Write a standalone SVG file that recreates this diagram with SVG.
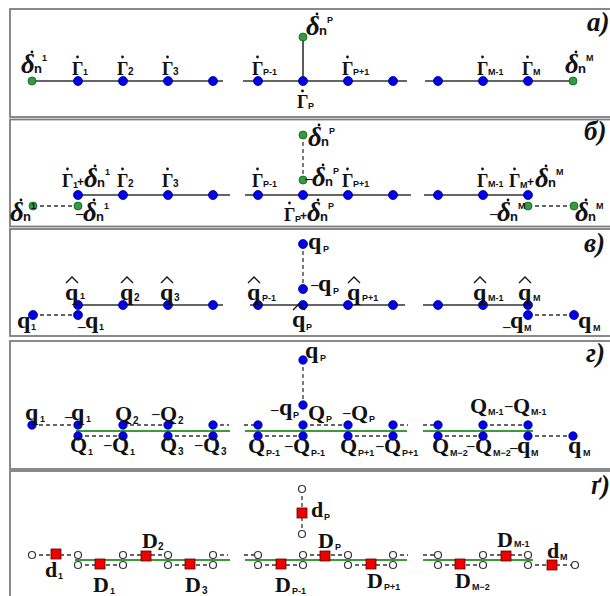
<svg xmlns="http://www.w3.org/2000/svg" width="610" height="596" viewBox="0 0 610 596">
<style>
.fr{fill:#fff;stroke:#7d7d7d;stroke-width:1.8}
.ln{stroke:#333;stroke-width:1.6;fill:none}
.ds{stroke:#333;stroke-width:1.3;stroke-dasharray:4 3;fill:none}
.gl{stroke:#3c9c3c;stroke-width:2;fill:none}
.b{fill:#0000ee;stroke:#00007a;stroke-width:0.8}
.g{fill:#2f9e3f;stroke:#155a1e;stroke-width:0.8}
.o{fill:#fff;stroke:#333;stroke-width:1.2}
.r{fill:#ee0000;stroke:#5a0000;stroke-width:0.8}
text{font-family:"Liberation Serif","Times New Roman",serif;font-weight:bold;fill:#111}
.L{font-size:22px}
.q{font-size:24px}
.G{font-size:18px}
.dl{font-size:27px;font-style:italic}
.n{font-family:"Liberation Sans",Arial,sans-serif;font-size:13px;font-style:normal}
.s{font-family:"Liberation Sans",Arial,sans-serif;font-size:9px;font-style:normal}
.sd{font-family:"Liberation Sans",Arial,sans-serif;font-size:10px;font-style:normal}
.t{font-size:27px;font-style:italic}
.m{font-size:15px;font-style:normal}
.pl{font-family:"Liberation Sans",Arial,sans-serif;font-size:12px;font-style:normal}
.dt{fill:#111}
.hat{fill:none;stroke:#111;stroke-width:1.3}
</style>

<g id="frames">
<rect class="fr" x="10" y="9" width="620" height="108"/>
<rect class="fr" x="10" y="119.5" width="620" height="107"/>
<rect class="fr" x="10" y="229" width="620" height="107"/>
<rect class="fr" x="10" y="341" width="620" height="128"/>
<rect class="fr" x="10" y="471" width="620" height="140"/>
</g>

<g id="titles">
<text class="t" x="587" y="31">a)</text>
<text class="t" x="584" y="140">б)</text>
<text class="t" x="584" y="252">в)</text>
<text class="t" x="586" y="362">г)</text>
<text class="t" x="591" y="494">ґ)</text>
</g>

<g id="connectors">
<path class="ln" d="M32 81H223M243 81H407M425 81H573M303 81V37"/>
<path class="ln" d="M78 195H230M245 195H411M424 195H528"/>
<path class="ds" d="M33 206H78M528 206H574M303 135V180"/>
<path class="ln" d="M78 305H223M250 305H405M423 305H528"/>
<path class="ds" d="M33 315H78M528 315H574M303 244V289"/>
<path class="gl" d="M76 431H230M245 431H407M423 431H533"/>
<path class="ds" d="M32 425H78M78 436H123M123 425H168M168 436H213M213 425H229M244 425H258M258 436H303M303 425H348M348 436H393M393 425H408M423 425H438M438 436H483M483 425H528M528 436H573M303 360V405"/>
<path class="gl" d="M75 560H230M245 560H407M423 560H533"/>
<path class="ds" d="M32 555H78M78 565H123M123 555H168M168 565H213M213 555H228M244 555H258M258 565H303M303 555H348M348 565H393M393 555H408M423 555H438M438 565H483M483 555H528M528 565H575M302 489V534"/>
</g>

<!-- ===== panel a ===== -->
<g id="a-d1"><circle class="g" cx="32" cy="81" r="4"/><circle class="dt" cx="32" cy="52" r="1.4"/><text class="dl" y="73"><tspan x="21">δ</tspan><tspan class="n" x="34">n</tspan><tspan class="s" x="42" y="61">1</tspan></text></g>
<g id="a-G1"><circle class="b" cx="78" cy="81" r="4.5"/><circle class="dt" cx="77.5" cy="57" r="1.4"/><text class="G" y="75"><tspan x="72">Γ</tspan><tspan class="s" x="83">1</tspan></text></g>
<g id="a-G2"><circle class="b" cx="123" cy="81" r="4.5"/><circle class="dt" cx="122.5" cy="57" r="1.4"/><text class="G" y="75"><tspan x="117">Γ</tspan><tspan class="sd" x="128">2</tspan></text></g>
<g id="a-G3"><circle class="b" cx="168" cy="81" r="4.5"/><circle class="dt" cx="167.5" cy="57" r="1.4"/><text class="G" y="75"><tspan x="162">Γ</tspan><tspan class="sd" x="173">3</tspan></text></g>
<g id="a-n4"><circle class="b" cx="213" cy="81" r="4.5"/></g>
<g id="a-GPm1"><circle class="b" cx="258" cy="81" r="4.5"/><circle class="dt" cx="257.5" cy="57" r="1.4"/><text class="G" y="75"><tspan x="252">Γ</tspan><tspan class="s" x="263">P-1</tspan></text></g>
<g id="a-GP"><circle class="b" cx="303" cy="81" r="4.5"/><circle class="dt" cx="302.5" cy="91" r="1.4"/><text class="G" y="108"><tspan x="297">Γ</tspan><tspan class="s" x="308" y="109">P</tspan></text></g>
<g id="a-dP"><circle class="g" cx="303" cy="37" r="4"/><circle class="dt" cx="317" cy="14" r="1.4"/><text class="dl" y="35"><tspan x="306">δ</tspan><tspan class="n" x="319">n</tspan><tspan class="s" x="327" y="23">P</tspan></text></g>
<g id="a-GPp1"><circle class="b" cx="348" cy="81" r="4.5"/><circle class="dt" cx="347.5" cy="57" r="1.4"/><text class="G" y="75"><tspan x="342">Γ</tspan><tspan class="s" x="353">P+1</tspan></text></g>
<g id="a-n8"><circle class="b" cx="393" cy="81" r="4.5"/></g>
<g id="a-n9"><circle class="b" cx="438" cy="81" r="4.5"/></g>
<g id="a-GMm1"><circle class="b" cx="483" cy="81" r="4.5"/><circle class="dt" cx="482.5" cy="57" r="1.4"/><text class="G" y="75"><tspan x="477">Γ</tspan><tspan class="s" x="488">M-1</tspan></text></g>
<g id="a-GM"><circle class="b" cx="528" cy="81" r="4.5"/><circle class="dt" cx="527.5" cy="57" r="1.4"/><text class="G" y="75"><tspan x="522">Γ</tspan><tspan class="s" x="533">M</tspan></text></g>
<g id="a-dM"><circle class="g" cx="573" cy="81" r="4"/><circle class="dt" cx="576" cy="52" r="1.4"/><text class="dl" y="73"><tspan x="565">δ</tspan><tspan class="n" x="578">n</tspan><tspan class="s" x="586" y="61">M</tspan></text></g>

<!-- ===== panel б ===== -->
<g id="b-d1L"><circle class="g" cx="33" cy="206" r="4"/><circle class="dt" cx="21" cy="200" r="1.4"/><text class="dl" y="221"><tspan x="10">δ</tspan><tspan class="n" x="23">n</tspan><tspan class="s" x="31" y="209">1</tspan></text></g>
<g id="b-d1"><circle class="g" cx="78" cy="206" r="4"/><circle class="dt" cx="94" cy="200" r="1.4"/><text class="dl" y="221"><tspan class="m" x="76" y="218">–</tspan><tspan x="83" y="221">δ</tspan><tspan class="n" x="96">n</tspan><tspan class="s" x="104" y="209">1</tspan></text></g>
<g id="b-G1"><circle class="b" cx="78" cy="195" r="4.5"/><circle class="dt" cx="67.5" cy="169" r="1.4"/><circle class="dt" cx="95" cy="166" r="1.4"/><text class="G" y="187"><tspan x="62">Γ</tspan><tspan class="s" x="73" y="188">1</tspan><tspan class="pl" x="77" y="186">+</tspan><tspan class="dl" x="84" y="187">δ</tspan><tspan class="n" x="97">n</tspan><tspan class="s" x="105" y="175">1</tspan></text></g>
<g id="b-G2"><circle class="b" cx="123" cy="195" r="4.5"/><circle class="dt" cx="122.5" cy="169" r="1.4"/><text class="G" y="187"><tspan x="117">Γ</tspan><tspan class="sd" x="128">2</tspan></text></g>
<g id="b-G3"><circle class="b" cx="168" cy="195" r="4.5"/><circle class="dt" cx="167.5" cy="169" r="1.4"/><text class="G" y="187"><tspan x="162">Γ</tspan><tspan class="sd" x="173">3</tspan></text></g>
<g id="b-n4"><circle class="b" cx="213" cy="195" r="4.5"/></g>
<g id="b-GPm1"><circle class="b" cx="258" cy="195" r="4.5"/><circle class="dt" cx="257.5" cy="169" r="1.4"/><text class="G" y="187"><tspan x="252">Γ</tspan><tspan class="s" x="263">P-1</tspan></text></g>
<g id="b-GP"><circle class="b" cx="303" cy="195" r="4.5"/><circle class="dt" cx="289.5" cy="203" r="1.4"/><circle class="dt" cx="318" cy="200" r="1.4"/><text class="G" y="221"><tspan x="284">Γ</tspan><tspan class="s" x="295" y="222">P</tspan><tspan class="pl" x="300" y="220">+</tspan><tspan class="dl" x="307" y="221">δ</tspan><tspan class="n" x="320">n</tspan><tspan class="s" x="328" y="209">P</tspan></text></g>
<g id="b-dPt"><circle class="g" cx="303" cy="135" r="4"/><circle class="dt" cx="319" cy="125" r="1.4"/><text class="dl" y="146"><tspan x="308">δ</tspan><tspan class="n" x="321">n</tspan><tspan class="s" x="329" y="134">P</tspan></text></g>
<g id="b-dPb"><circle class="g" cx="303" cy="180" r="4"/><circle class="dt" cx="323" cy="165" r="1.4"/><text class="dl" y="186"><tspan class="m" x="305" y="183">–</tspan><tspan x="312" y="186">δ</tspan><tspan class="n" x="325">n</tspan><tspan class="s" x="333" y="174">P</tspan></text></g>
<g id="b-GPp1"><circle class="b" cx="348" cy="195" r="4.5"/><circle class="dt" cx="347.5" cy="169" r="1.4"/><text class="G" y="187"><tspan x="342">Γ</tspan><tspan class="s" x="353">P+1</tspan></text></g>
<g id="b-n8"><circle class="b" cx="393" cy="195" r="4.5"/></g>
<g id="b-n9"><circle class="b" cx="438" cy="195" r="4.5"/></g>
<g id="b-GMm1"><circle class="b" cx="483" cy="195" r="4.5"/><circle class="dt" cx="482.5" cy="169" r="1.4"/><text class="G" y="187"><tspan x="477">Γ</tspan><tspan class="s" x="488">M-1</tspan></text></g>
<g id="b-GM"><circle class="b" cx="528" cy="195" r="4.5"/><circle class="dt" cx="514.5" cy="169" r="1.4"/><circle class="dt" cx="546" cy="166" r="1.4"/><text class="G" y="187"><tspan x="509">Γ</tspan><tspan class="s" x="520" y="188">M</tspan><tspan class="pl" x="527" y="186">+</tspan><tspan class="dl" x="535" y="187">δ</tspan><tspan class="n" x="548">n</tspan><tspan class="s" x="556" y="175">M</tspan></text></g>
<g id="b-dM"><circle class="g" cx="528" cy="206" r="4"/><circle class="dt" cx="508" cy="200" r="1.4"/><text class="dl" y="221"><tspan class="m" x="490" y="218">–</tspan><tspan x="497" y="221">δ</tspan><tspan class="n" x="510">n</tspan><tspan class="s" x="518" y="209">M</tspan></text></g>
<g id="b-dMR"><circle class="g" cx="574" cy="206" r="4"/><circle class="dt" cx="586" cy="200" r="1.4"/><text class="dl" y="221"><tspan x="575">δ</tspan><tspan class="n" x="588">n</tspan><tspan class="s" x="596" y="209">M</tspan></text></g>

<!-- ===== panel в ===== -->
<g id="c-q1L"><circle class="b" cx="33" cy="315" r="4.5"/><text class="q" y="328"><tspan x="17">q</tspan><tspan class="s" x="31" y="330">1</tspan></text></g>
<g id="c-q1"><circle class="b" cx="78" cy="315" r="4.5"/><text class="q" y="328"><tspan class="m" x="78" y="331">–</tspan><tspan x="85" y="328">q</tspan><tspan class="s" x="99" y="330">1</tspan></text></g>
<g id="c-Q1"><circle class="b" cx="78" cy="305" r="4.5"/><path class="hat" d="M66 283L72 277L78 283"/><text class="q" y="300"><tspan x="65">q</tspan><tspan class="s" x="80" y="299">1</tspan></text></g>
<g id="c-Q2"><circle class="b" cx="123" cy="305" r="4.5"/><path class="hat" d="M121 283L127 277L133 283"/><text class="q" y="300"><tspan x="120">q</tspan><tspan class="sd" x="134" y="301">2</tspan></text></g>
<g id="c-Q3"><circle class="b" cx="168" cy="305" r="4.5"/><path class="hat" d="M161 283L167 277L173 283"/><text class="q" y="300"><tspan x="160">q</tspan><tspan class="sd" x="174" y="301">3</tspan></text></g>
<g id="c-n4"><circle class="b" cx="213" cy="305" r="4.5"/></g>
<g id="c-QPm1"><circle class="b" cx="258" cy="305" r="4.5"/><path class="hat" d="M248 283L254 277L260 283"/><text class="q" y="300"><tspan x="247">q</tspan><tspan class="s" x="262" y="301">P-1</tspan></text></g>
<g id="c-QP"><circle class="b" cx="303" cy="305" r="4.5"/><path class="hat" d="M293 310L299 304L305 310"/><text class="q" y="327"><tspan x="292">q</tspan><tspan class="s" x="306" y="330">P</tspan></text></g>
<g id="c-qPt"><circle class="b" cx="303" cy="244" r="4.5"/><text class="q" y="249"><tspan x="308">q</tspan><tspan class="s" x="323" y="252">P</tspan></text></g>
<g id="c-qPb"><circle class="b" cx="303" cy="289" r="4.5"/><text class="q" y="291"><tspan class="m" x="311" y="289">–</tspan><tspan x="318" y="291">q</tspan><tspan class="s" x="333" y="294">P</tspan></text></g>
<g id="c-QPp1"><circle class="b" cx="348" cy="305" r="4.5"/><path class="hat" d="M348 283L354 277L360 283"/><text class="q" y="300"><tspan x="347">q</tspan><tspan class="s" x="362" y="301">P+1</tspan></text></g>
<g id="c-n8"><circle class="b" cx="393" cy="305" r="4.5"/></g>
<g id="c-n9"><circle class="b" cx="438" cy="305" r="4.5"/></g>
<g id="c-QMm1"><circle class="b" cx="483" cy="305" r="4.5"/><path class="hat" d="M474 283L480 277L486 283"/><text class="q" y="300"><tspan x="473">q</tspan><tspan class="s" x="488" y="301">M-1</tspan></text></g>
<g id="c-QM"><circle class="b" cx="528" cy="305" r="4.5"/><path class="hat" d="M519 283L525 277L531 283"/><text class="q" y="300"><tspan x="518">q</tspan><tspan class="s" x="533" y="301">M</tspan></text></g>
<g id="c-qM"><circle class="b" cx="528" cy="315" r="4.5"/><text class="q" y="328"><tspan class="m" x="503" y="331">–</tspan><tspan x="510" y="328">q</tspan><tspan class="s" x="524" y="331">M</tspan></text></g>
<g id="c-qMR"><circle class="b" cx="574" cy="315" r="4.5"/><text class="q" y="328"><tspan x="578">q</tspan><tspan class="s" x="593" y="331">M</tspan></text></g>

<!-- ===== panel г ===== -->
<g id="d-q1L"><circle class="b" cx="32" cy="425" r="4.2"/><text class="q" y="420"><tspan x="25">q</tspan><tspan class="s" x="40" y="422">1</tspan></text></g>
<g id="d-U78"><circle class="b" cx="78" cy="425" r="4.2"/><text class="q" y="420"><tspan class="m" x="65" y="421">–</tspan><tspan x="71" y="420">q</tspan><tspan class="s" x="86" y="422">1</tspan></text></g>
<g id="d-L78"><circle class="b" cx="78" cy="436" r="4.2"/><text class="L" y="452"><tspan x="70">Q</tspan><tspan class="s" x="88" y="455">1</tspan></text></g>
<g id="d-U123"><circle class="b" cx="123" cy="425" r="4.2"/><text class="L" y="421"><tspan x="115">Q</tspan><tspan class="sd" x="133" y="424">2</tspan></text></g>
<g id="d-L123"><circle class="b" cx="123" cy="436" r="4.2"/><text class="L" y="452"><tspan class="m" x="104" y="449">–</tspan><tspan x="112" y="452">Q</tspan><tspan class="s" x="130" y="455">1</tspan></text></g>
<g id="d-U168"><circle class="b" cx="168" cy="425" r="4.2"/><text class="L" y="421"><tspan class="m" x="152" y="418">–</tspan><tspan x="160" y="421">Q</tspan><tspan class="sd" x="178" y="424">2</tspan></text></g>
<g id="d-L168"><circle class="b" cx="168" cy="436" r="4.2"/><text class="L" y="452"><tspan x="160">Q</tspan><tspan class="sd" x="178" y="455">3</tspan></text></g>
<g id="d-U213"><circle class="b" cx="213" cy="425" r="4.2"/></g>
<g id="d-L213"><circle class="b" cx="213" cy="436" r="4.2"/><text class="L" y="452"><tspan class="m" x="195" y="449">–</tspan><tspan x="203" y="452">Q</tspan><tspan class="sd" x="221" y="455">3</tspan></text></g>
<g id="d-U258"><circle class="b" cx="258" cy="425" r="4.2"/></g>
<g id="d-L258"><circle class="b" cx="258" cy="436" r="4.2"/><text class="L" y="453"><tspan x="248">Q</tspan><tspan class="s" x="266" y="456">P-1</tspan></text></g>
<g id="d-qPt"><circle class="b" cx="303" cy="360" r="4.2"/><text class="q" y="358"><tspan x="305">q</tspan><tspan class="s" x="320" y="361">P</tspan></text></g>
<g id="d-qPb"><circle class="b" cx="303" cy="405" r="4.2"/><text class="q" y="415"><tspan class="m" x="271" y="414">–</tspan><tspan x="279" y="415">q</tspan><tspan class="s" x="293" y="418">P</tspan></text></g>
<g id="d-U303"><circle class="b" cx="303" cy="425" r="4.2"/><text class="L" y="420"><tspan x="308">Q</tspan><tspan class="s" x="326" y="422">P</tspan></text></g>
<g id="d-L303"><circle class="b" cx="303" cy="436" r="4.2"/><text class="L" y="453"><tspan class="m" x="285" y="450">–</tspan><tspan x="293" y="453">Q</tspan><tspan class="s" x="311" y="456">P-1</tspan></text></g>
<g id="d-U348"><circle class="b" cx="348" cy="425" r="4.2"/><text class="L" y="420"><tspan class="m" x="343" y="417">–</tspan><tspan x="351" y="420">Q</tspan><tspan class="s" x="369" y="422">P</tspan></text></g>
<g id="d-L348"><circle class="b" cx="348" cy="436" r="4.2"/><text class="L" y="453"><tspan x="340">Q</tspan><tspan class="s" x="358" y="456">P+1</tspan></text></g>
<g id="d-U393"><circle class="b" cx="393" cy="425" r="4.2"/></g>
<g id="d-L393"><circle class="b" cx="393" cy="436" r="4.2"/><text class="L" y="453"><tspan class="m" x="376" y="450">–</tspan><tspan x="384" y="453">Q</tspan><tspan class="s" x="402" y="456">P+1</tspan></text></g>
<g id="d-U438"><circle class="b" cx="438" cy="425" r="4.2"/></g>
<g id="d-L438"><circle class="b" cx="438" cy="436" r="4.2"/><text class="L" y="453"><tspan x="432">Q</tspan><tspan class="s" x="450" y="456">M−2</tspan></text></g>
<g id="d-U483"><circle class="b" cx="483" cy="425" r="4.2"/><text class="L" y="413"><tspan x="470">Q</tspan><tspan class="s" x="488" y="415">M-1</tspan></text></g>
<g id="d-L483"><circle class="b" cx="483" cy="436" r="4.2"/><text class="L" y="453"><tspan class="m" x="467" y="450">–</tspan><tspan x="475" y="453">Q</tspan><tspan class="s" x="493" y="456">M−2</tspan></text></g>
<g id="d-U528"><circle class="b" cx="528" cy="425" r="4.2"/><text class="L" y="413"><tspan class="m" x="505" y="410">–</tspan><tspan x="513" y="413">Q</tspan><tspan class="s" x="531" y="415">M-1</tspan></text></g>
<g id="d-L528"><circle class="b" cx="528" cy="436" r="4.2"/><text class="q" y="453"><tspan class="m" x="510" y="452">–</tspan><tspan x="517" y="453">q</tspan><tspan class="s" x="531" y="456">M</tspan></text></g>
<g id="d-qMR"><circle class="b" cx="573" cy="436" r="4.2"/><text class="q" y="453"><tspan x="568">q</tspan><tspan class="s" x="583" y="456">M</tspan></text></g>

<!-- ===== panel ґ ===== -->
<g id="e-o32"><circle class="o" cx="32" cy="555" r="3.5"/></g>
<g id="e-d1"><rect class="r" x="51" y="549" width="10" height="10"/><text class="L" y="577"><tspan x="45">d</tspan><tspan class="s" x="58" y="579">1</tspan></text></g>
<g id="e-U78"><circle class="o" cx="78" cy="555" r="3.5"/></g>
<g id="e-L78"><circle class="o" cx="78" cy="565" r="3.5"/></g>
<g id="e-D1"><rect class="r" x="95" y="559" width="10" height="10"/><text class="L" y="592"><tspan x="93">D</tspan><tspan class="s" x="110" y="594">1</tspan></text></g>
<g id="e-U123"><circle class="o" cx="123" cy="555" r="3.5"/></g>
<g id="e-L123"><circle class="o" cx="123" cy="565" r="3.5"/></g>
<g id="e-D2"><rect class="r" x="141" y="551" width="10" height="10"/><text class="L" y="548"><tspan x="142">D</tspan><tspan class="sd" x="158" y="550">2</tspan></text></g>
<g id="e-U168"><circle class="o" cx="168" cy="555" r="3.5"/></g>
<g id="e-L168"><circle class="o" cx="168" cy="565" r="3.5"/></g>
<g id="e-D3"><rect class="r" x="185" y="559" width="10" height="10"/><text class="L" y="592"><tspan x="185">D</tspan><tspan class="sd" x="202" y="594">3</tspan></text></g>
<g id="e-U213"><circle class="o" cx="213" cy="555" r="3.5"/></g>
<g id="e-L213"><circle class="o" cx="213" cy="565" r="3.5"/></g>
<g id="e-U258"><circle class="o" cx="258" cy="555" r="3.5"/></g>
<g id="e-L258"><circle class="o" cx="258" cy="565" r="3.5"/></g>
<g id="e-DPm1"><rect class="r" x="276" y="559" width="10" height="10"/><text class="L" y="592"><tspan x="275">D</tspan><tspan class="s" x="292" y="594">P-1</tspan></text></g>
<g id="e-oPt"><circle class="o" cx="302" cy="489" r="3.5"/></g>
<g id="e-dP"><rect class="r" x="297" y="508" width="10" height="10"/><text class="L" y="517"><tspan x="311">d</tspan><tspan class="s" x="324" y="520">P</tspan></text></g>
<g id="e-oPb"><circle class="o" cx="302" cy="534" r="3.5"/></g>
<g id="e-U303"><circle class="o" cx="303" cy="555" r="3.5"/></g>
<g id="e-L303"><circle class="o" cx="303" cy="565" r="3.5"/></g>
<g id="e-DP"><rect class="r" x="320" y="551" width="10" height="10"/><text class="L" y="548"><tspan x="318">D</tspan><tspan class="s" x="335" y="550">P</tspan></text></g>
<g id="e-U348"><circle class="o" cx="348" cy="555" r="3.5"/></g>
<g id="e-L348"><circle class="o" cx="348" cy="565" r="3.5"/></g>
<g id="e-DPp1"><rect class="r" x="366" y="559" width="10" height="10"/><text class="L" y="588"><tspan x="367">D</tspan><tspan class="s" x="384" y="590">P+1</tspan></text></g>
<g id="e-U393"><circle class="o" cx="393" cy="555" r="3.5"/></g>
<g id="e-L393"><circle class="o" cx="393" cy="565" r="3.5"/></g>
<g id="e-U438"><circle class="o" cx="438" cy="555" r="3.5"/></g>
<g id="e-L438"><circle class="o" cx="438" cy="565" r="3.5"/></g>
<g id="e-DMm2"><rect class="r" x="455" y="559" width="10" height="10"/><text class="L" y="588"><tspan x="455">D</tspan><tspan class="s" x="472" y="590">M−2</tspan></text></g>
<g id="e-U483"><circle class="o" cx="483" cy="555" r="3.5"/></g>
<g id="e-L483"><circle class="o" cx="483" cy="565" r="3.5"/></g>
<g id="e-DMm1"><rect class="r" x="501" y="551" width="10" height="10"/><text class="L" y="547"><tspan x="497">D</tspan><tspan class="s" x="514" y="547">M-1</tspan></text></g>
<g id="e-U528"><circle class="o" cx="528" cy="555" r="3.5"/></g>
<g id="e-L528"><circle class="o" cx="528" cy="565" r="3.5"/></g>
<g id="e-dM"><rect class="r" x="547" y="560" width="10" height="10"/><text class="L" y="558"><tspan x="547">d</tspan><tspan class="s" x="560" y="560">M</tspan></text></g>
<g id="e-o575"><circle class="o" cx="575" cy="565" r="3.5"/></g>
</svg>
